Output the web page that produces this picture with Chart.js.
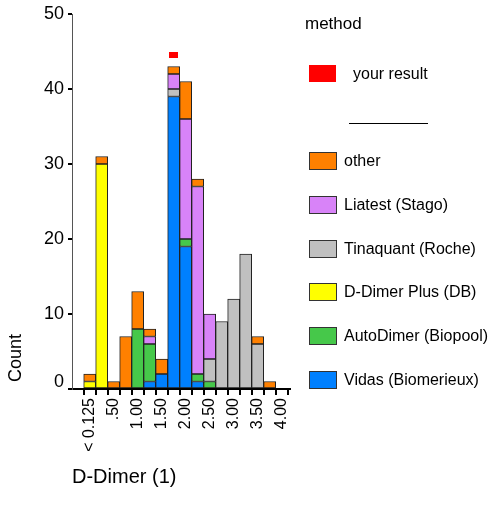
<!DOCTYPE html>
<html><head><meta charset="utf-8">
<script src="https://cdn.jsdelivr.net/npm/chart.js@4.4.0/dist/chart.umd.min.js"></script>
<style>
html,body{margin:0;padding:0;background:#fff;}
#wrap{position:relative;width:488px;height:506px;font-family:"Liberation Sans",Arial,sans-serif;color:#000;overflow:hidden;}
canvas{position:absolute;left:0;top:0;}
.lg{position:absolute;font-size:16px;line-height:18px;white-space:nowrap;}
.box{position:absolute;width:26px;height:16px;border:1px solid #333;}
#ytitle{position:absolute;left:-15px;top:348px;width:60px;height:20px;line-height:20px;text-align:center;font-size:18px;transform:rotate(-90deg);}
</style></head><body>
<div id="wrap"><canvas id="c" width="488" height="506"></canvas><div id="ytitle">Count</div><div id="legend"></div></div>
<script>
// ---- data ----
const categories = ['< 0.125','0.25','.50','0.75','1.00','1.25','1.50','1.75','2.00','2.25','2.50','2.75','3.00','3.25','3.50','3.75','4.00'];
const tickLabels = ['< 0.125','','.50','','1.00','','1.50','','2.00','','2.50','','3.00','','3.50','','4.00'];
const yTicks     = [0,10,20,30,40,50];
const vidas      = [0,0,0,0,0,1,2,39,19,1,0,0,0,0,0,0,0];
const autoDimer  = [0,0,0,0,8,5,0,0,1,1,1,0,0,0,0,0,0];
const dDimerPlus = [1,30,0,0,0,0,0,0,0,0,0,0,0,0,0,0,0];
const tinaquant  = [0,0,0,0,0,0,0,1,0,0,3,9,12,18,6,0,0];
const liatest    = [0,0,0,0,0,1,0,2,16,25,6,0,0,0,0,0,0];
const other      = [1,1,1,7,5,1,2,1,5,1,0,0,0,0,1,1,0];
const yourResultCategory = '1.75';
const yourResultValue = 44.5;
const seriesNames = ['Vidas (Biomerieux)','AutoDimer (Biopool)','D-Dimer Plus (DB)','Tinaquant (Roche)','Liatest (Stago)','other'];
const seriesColors = ['#0080FF','#46C84A','#FFFF00','#C0C0C0','#D883F8','#FF8000'];
const seriesValues = [vidas, autoDimer, dDimerPlus, tinaquant, liatest, other];

const FONT = '"Liberation Sans", Arial, sans-serif';

const toPoints = arr => arr.map((v,i)=>({x:i,y:v})).filter(p=>p.y!==0);

const marker = document.createElement('canvas');
marker.width = 9; marker.height = 6;
const mctx = marker.getContext('2d'); mctx.fillStyle = '#FF0000'; mctx.fillRect(0,0,9,6);

const datasets = seriesValues.map((vals,k)=>({
  type:'bar', label: seriesNames[k], data: toPoints(vals),
  backgroundColor: seriesColors[k], borderColor:'#222', borderWidth:1, borderSkipped:false,
  barThickness:12, stack:'methods'
}));
datasets.push({
  type:'scatter', label:'your result', data:[{x:categories.indexOf(yourResultCategory), y:yourResultValue}],
  pointStyle: marker, pointRadius:5, stack:'result'
});

// y tick labels drawn by hand so the "0" label can sit slightly above the axis like the reference
const yLabels = {
  id:'yLabels',
  afterDraw(chart){
    const y = chart.scales.y, ctx = chart.ctx;
    ctx.save();
    ctx.font = '18px ' + FONT; ctx.fillStyle = '#000';
    ctx.textAlign = 'right'; ctx.textBaseline = 'middle';
    yTicks.forEach(v => {
      const py = y.getPixelForValue(v) - (v === 0 ? 7 : 0);
      ctx.fillText(String(v), y.right - 8, py);
    });
    ctx.restore();
  }
};

new Chart(document.getElementById('c'), {
  data:{ datasets },
  plugins:[yLabels],
  options:{
    responsive:false, animation:false,
    layout:{ padding:{ left:0, right:198, top:14, bottom:0 } },
    plugins:{ legend:{display:false}, tooltip:{enabled:false} },
    scales:{
      x:{
        type:'linear', stacked:true, min:-0.94, max:16.16,
        afterBuildTicks: s => { s.ticks = categories.map((_,i)=>({value:i})); },
        afterFit: s => { s.height = 117; },
        ticks:{ autoSkip:false, maxRotation:90, minRotation:90, padding:3, color:'#000',
          font:{family:FONT, size:16}, callback: v => tickLabels[Math.round(v)] },
        grid:{ drawOnChartArea:false, drawTicks:true, tickLength:6, color:'#000', lineWidth:2 },
        border:{ display:true, color:'#000', width:2 },
        title:{ display:true, text:'D-Dimer (1)', align:'start', color:'#000',
          font:{family:FONT, size:20}, padding:{top:0, bottom:17} }
      },
      y:{
        stacked:true, min:0, max:50,
        afterBuildTicks: s => { s.ticks = yTicks.map(v=>({value:v})); },
        afterFit: s => { s.width = 72; },
        ticks:{ display:false },
        grid:{ drawOnChartArea:false, drawTicks:true, tickLength:4, color:'#000', lineWidth:2 },
        border:{ display:true, color:'#555', width:1 }
      }
    }
  }
});

// ---- legend ----
const lg = document.getElementById('legend');
function add(html){ lg.insertAdjacentHTML('beforeend', html); }
add('<div class="lg" style="left:305px;top:15px;font-size:17px;">method</div>');
add('<div style="position:absolute;left:309px;top:65px;width:27px;height:17px;background:#FF0000;"></div>');
add('<div class="lg" style="left:353px;top:65px;">your result</div>');
add('<div style="position:absolute;left:349px;top:123px;width:79px;height:0;border-top:1px solid #000;"></div>');
const order = [5,4,3,2,1,0];
order.forEach((k,j)=>{
  const cy = 161 + j*43.8;
  add(`<div class="box" style="left:309px;top:${Math.round(cy-9)}px;background:${seriesColors[k]};"></div>`);
  add(`<div class="lg" style="left:344px;top:${Math.round(cy-9)}px;">${seriesNames[k]}</div>`);
});
</script>
</body></html>
